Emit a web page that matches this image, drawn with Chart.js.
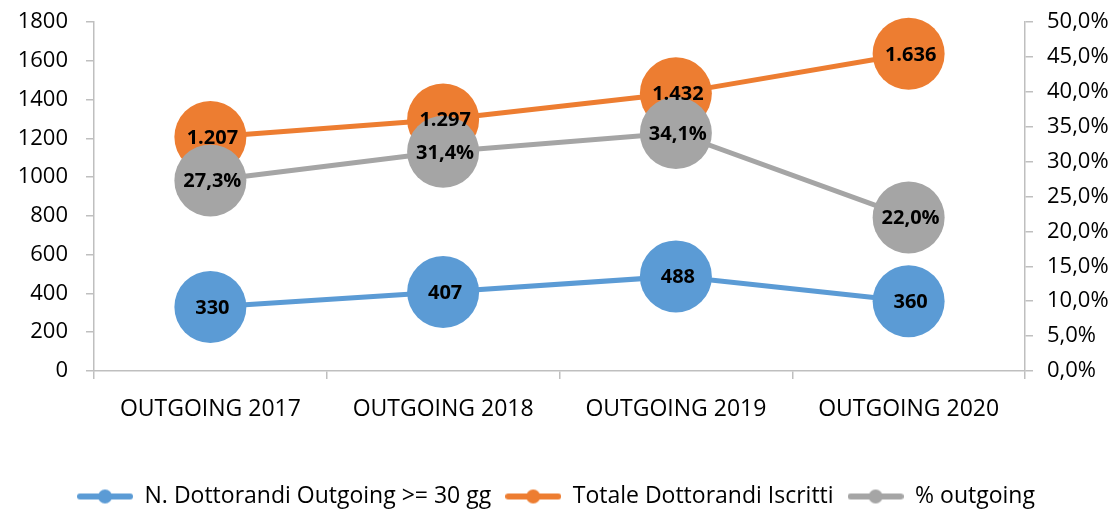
<!DOCTYPE html>
<html>
<head>
<meta charset="utf-8">
<script src="https://cdn.jsdelivr.net/npm/chart.js@4"></script>
<style>
  html, body { margin: 0; padding: 0; background: #fff; }
  #wrap { width: 1112px; height: 510px; }
</style>
</head>
<body>
<div id="wrap"><canvas id="myChart" width="1112" height="510"></canvas></div>
<script>
// data
const categories = ['OUTGOING 2017', 'OUTGOING 2018', 'OUTGOING 2019', 'OUTGOING 2020'];
const outgoing30 = [330, 407, 488, 360];
const totaleIscritti = [1207, 1297, 1432, 1636];
const percOutgoing = [27.3, 31.4, 34.1, 22.0];

const BLUE = '#5B9BD5', ORANGE = '#ED7D31', GRAY = '#A5A5A5';
const AXIS = '#BFBFBF';
const FONT = "'Open Sans', sans-serif";
const PLOT_BOTTOM = 371;
const BOTTOM_PAD = -8;

function fmtThousands(v) { return String(v).replace(/\B(?=(\d{3})+(?!\d))/g, '.'); }
function fmtPerc(v) { return v.toFixed(1).replace('.', ',') + '%'; }

// legend marker: line with a dot in the middle
function legendMarker(color) {
  const c = document.createElement('canvas');
  c.width = 56; c.height = 16;
  const g = c.getContext('2d');
  g.strokeStyle = color; g.lineWidth = 6; g.lineCap = 'round';
  g.beginPath(); g.moveTo(3, 8); g.lineTo(53, 8); g.stroke();
  g.fillStyle = color;
  g.beginPath(); g.arc(28, 8, 7, 0, Math.PI * 2); g.fill();
  return c;
}

const labelPlugin = {
  id: 'pointLabels',
  afterDatasetsDraw(chart) {
    const ctx = chart.ctx;
    ctx.save();
    ctx.font = 'bold 20px ' + FONT;
    ctx.fillStyle = '#000';
    ctx.textAlign = 'center';
    ctx.textBaseline = 'middle';
    chart.data.datasets.forEach((ds, i) => {
      const meta = chart.getDatasetMeta(i);
      meta.data.forEach((pt, j) => {
        ctx.fillText(ds.fmt(ds.data[j]), pt.x + 2, pt.y + 1);
      });
    });
    ctx.restore();
  }
};

// drop the half-label overflow so the plot top sits on the layout padding
function noVertPad(scale) { scale.paddingTop = 0; scale.paddingBottom = 0; }

const ctx = document.getElementById('myChart').getContext('2d');
const mychart = new Chart(ctx, {
  type: 'line',
  data: {
    labels: categories,
    datasets: [
      { label: 'N. Dottorandi Outgoing >= 30 gg', data: outgoing30, yAxisID: 'y',
        borderColor: BLUE, backgroundColor: BLUE, order: 3, fmt: v => String(v), marker: legendMarker(BLUE) },
      { label: 'Totale Dottorandi Iscritti', data: totaleIscritti, yAxisID: 'y',
        borderColor: ORANGE, backgroundColor: ORANGE, order: 2, fmt: fmtThousands, marker: legendMarker(ORANGE) },
      { label: '% outgoing', data: percOutgoing, yAxisID: 'y1',
        borderColor: GRAY, backgroundColor: GRAY, order: 1, fmt: fmtPerc, marker: legendMarker(GRAY) }
    ]
  },
  options: {
    responsive: false,
    animation: false,
    events: [],
    clip: false,
    layout: { autoPadding: false, padding: { top: 22, left: 0, right: 0, bottom: BOTTOM_PAD } },
    elements: {
      line: { borderWidth: 5, tension: 0 },
      point: { radius: 36, borderWidth: 0 }
    },
    plugins: {
      tooltip: { enabled: false },
      legend: {
        position: 'bottom',
        labels: {
          usePointStyle: true,
          pointStyleWidth: 56,
          padding: 14,
          color: '#000',
          font: { family: FONT, size: 23 },
          generateLabels(chart) {
            return chart.data.datasets.map((ds, i) => ({
              text: ds.label, pointStyle: ds.marker, datasetIndex: i,
              fillStyle: ds.borderColor, strokeStyle: ds.borderColor, lineWidth: 0, hidden: false
            }));
          }
        }
      }
    },
    scales: {
      x: {
        offset: true,
        grid: { offset: true, drawOnChartArea: false, color: AXIS, tickLength: 8, lineWidth: 1.5 },
        border: { color: AXIS, width: 1.5 },
        ticks: { color: '#000', font: { family: FONT, size: 23 }, padding: 17, maxRotation: 0 },
        afterFit(scale) {
          const ch = scale.chart;
          scale.height = ch.height - PLOT_BOTTOM - ch.legend.height - BOTTOM_PAD;
        }
      },
      y: {
        position: 'left',
        min: 0, max: 1800,
        ticks: { stepSize: 200, color: '#000', font: { family: FONT, size: 22 }, padding: 18,
                 callback: v => String(v) },
        grid: { drawOnChartArea: false, color: AXIS, tickLength: 8, lineWidth: 1.5 },
        border: { color: AXIS, width: 1.5 },
        afterFit(scale) { scale.width = 94; noVertPad(scale); }
      },
      y1: {
        position: 'right',
        min: 0, max: 50,
        ticks: { stepSize: 5, color: '#000', font: { family: FONT, size: 22 }, padding: 14,
                 callback: v => fmtPerc(v) },
        grid: { drawOnChartArea: false, color: AXIS, tickLength: 8, lineWidth: 1.5 },
        border: { color: AXIS, width: 1.5 },
        afterFit(scale) { scale.width = 87; noVertPad(scale); }
      }
    }
  },
  plugins: [labelPlugin]
});
</script>
</body>
</html>
